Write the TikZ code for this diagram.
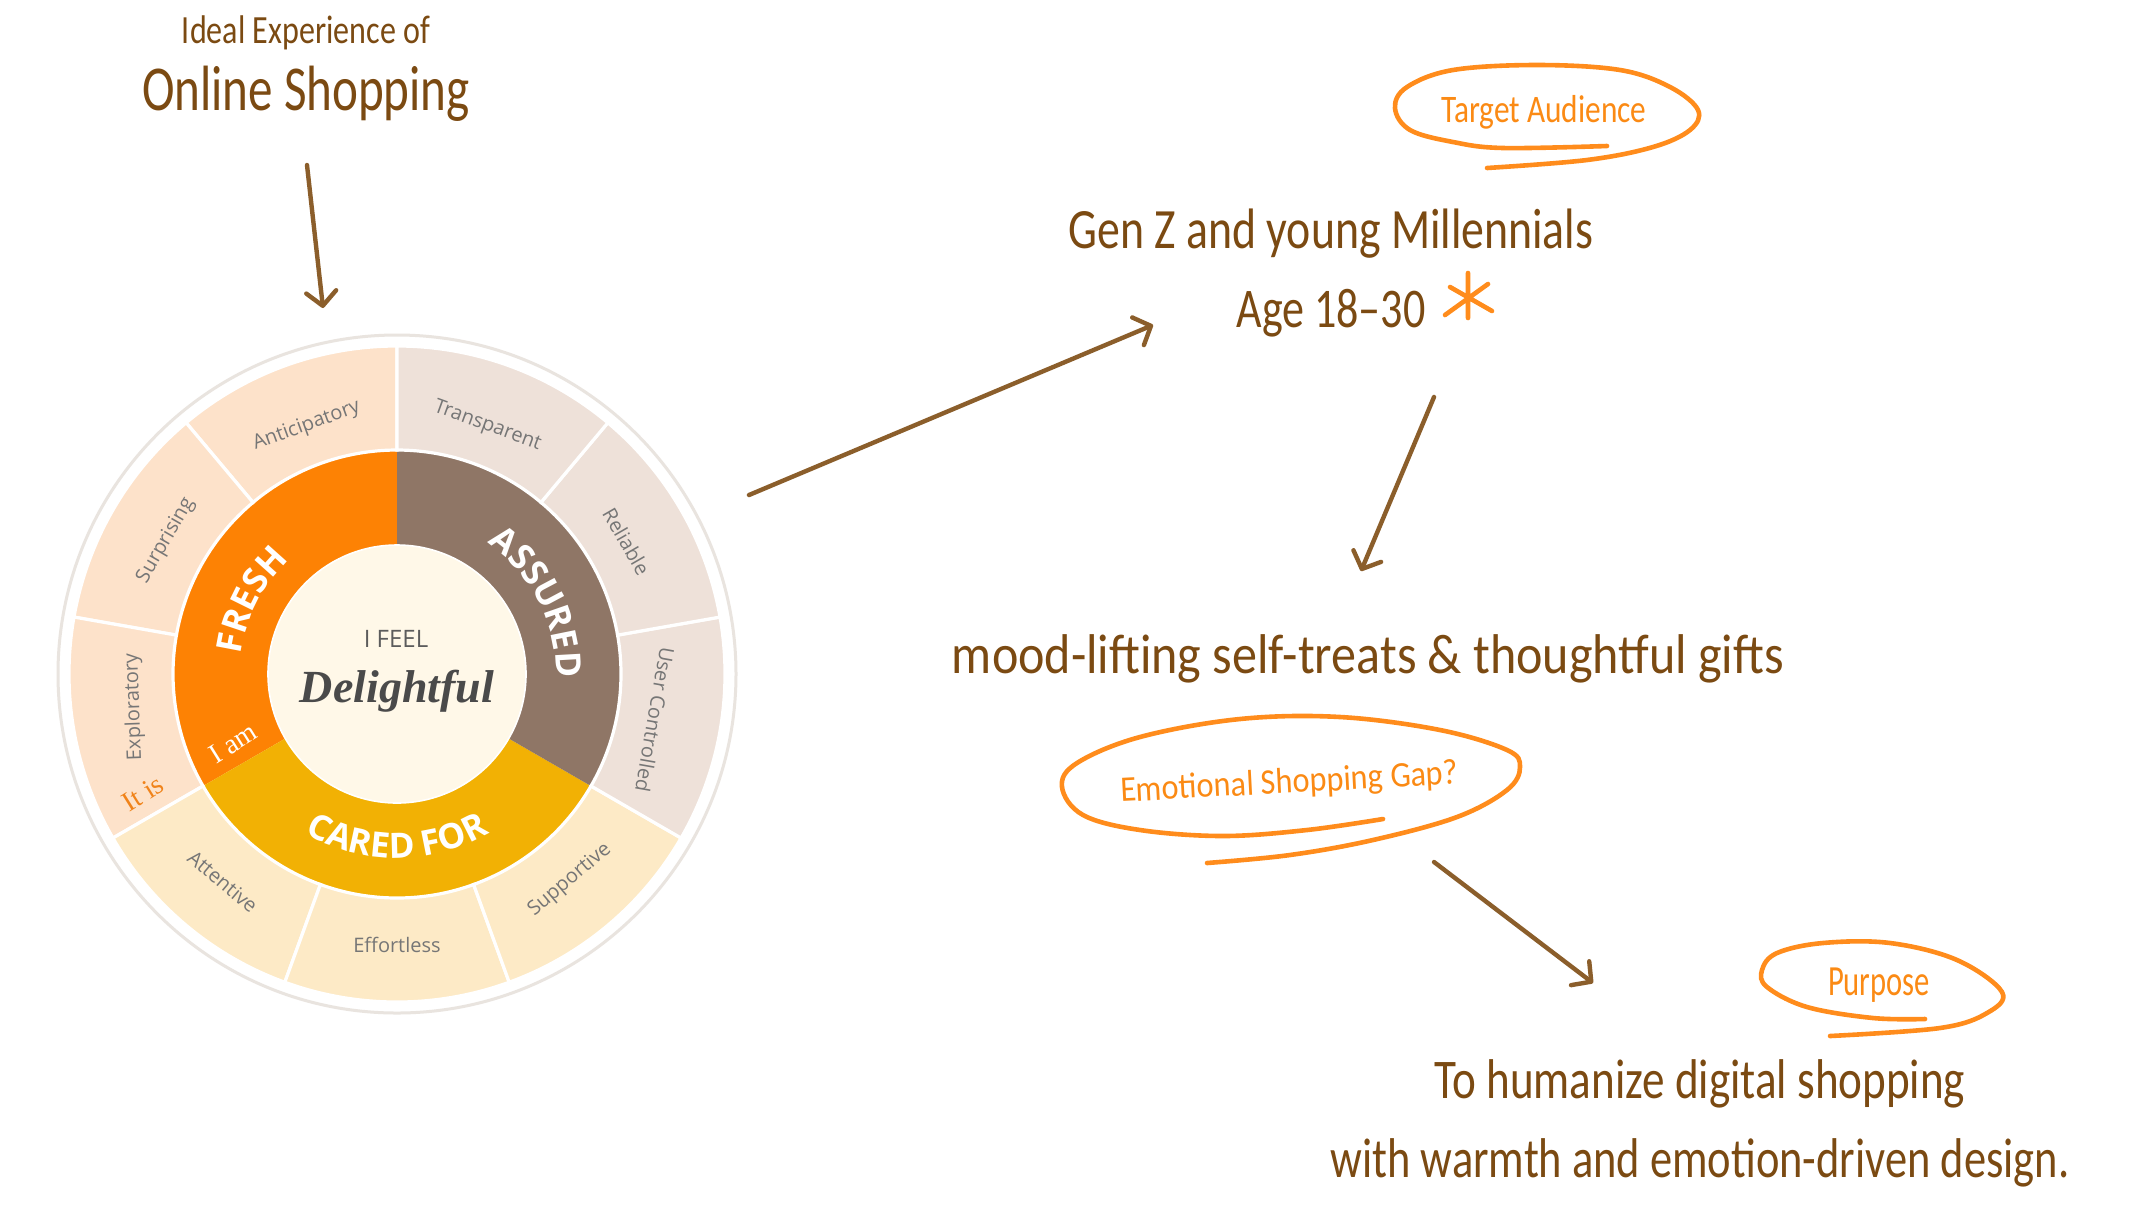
\documentclass[tikz,border=0pt]{standalone}
\usepackage{fontspec}
\usepackage{graphicx}
\usetikzlibrary{arrows.meta,decorations.text}
\setmainfont{Liberation Serif}
\setsansfont{Open Sans}
\newfontfamily\handfont[Ligatures=TeX]{Carlito}
\newfontfamily\labelfont{Open Sans}

\definecolor{brownT}{HTML}{7B4A12}
\definecolor{brownA}{HTML}{8B5E2B}
\definecolor{orangeT}{HTML}{FB8A14}
\definecolor{orangeS}{HTML}{FF8C1C}
\definecolor{freshC}{HTML}{FD8204}
\definecolor{assuredC}{HTML}{8F7666}
\definecolor{caredC}{HTML}{F2B104}
\definecolor{freshL}{HTML}{FDE2CA}
\definecolor{assuredL}{HTML}{EEE1D9}
\definecolor{caredL}{HTML}{FDEAC6}
\definecolor{coreC}{HTML}{FFF8E8}
\definecolor{labelC}{HTML}{767676}
\definecolor{ringC}{HTML}{E9E4DF}
\definecolor{darkT}{HTML}{4A4A4A}
\definecolor{itisC}{HTML}{F0831A}

\newcommand\hw[3]{\resizebox{#1pt}{\height}{\fontsize{#2}{#2}\selectfont\handfont #3}}
\newcommand\midfont{\sffamily\bfseries\fontsize{17.5}{17.5}\selectfont}

\begin{document}
\begin{tikzpicture}[x=0.5pt,y=0.5pt,
  hand/.style={inner sep=0pt, anchor=base, text=brownT},
  handO/.style={inner sep=0pt, anchor=base, text=orangeT},
  arr/.style={draw=brownA, line width=2.2pt, line cap=round,
    -{Straight Barb[length=7pt,width=15pt,line cap=round,line join=round]}},
  loopline/.style={draw=orangeS, line width=2.3pt, line cap=round, line join=round},
  wlabel/.style={inner sep=0pt, text=labelC, font=\labelfont\fontsize{10}{10}\selectfont},
  serifl/.style={inner sep=0pt, font=\rmfamily\fontsize{14}{14}\selectfont},
]
\useasboundingbox (0,0) rectangle (2156,-1212);
\fill[white] (0,0) rectangle (2156,-1212);

% ---------- wheel ----------
\coordinate (wc) at (397,-674);
\draw[ringC, line width=1.5pt, fill=white] (wc) circle[radius=339];

\fill[freshC] (wc) -- ([shift={(90:224)}]wc) arc[start angle=90,end angle=210,radius=224] -- cycle;
\fill[caredC] (wc) -- ([shift={(210:224)}]wc) arc[start angle=210,end angle=330,radius=224] -- cycle;
\fill[assuredC] (wc) -- ([shift={(330:224)}]wc) arc[start angle=330,end angle=450,radius=224] -- cycle;

\foreach \a/\b/\c in {90/130/freshL, 130/170/freshL, 170/210/freshL,
  210/250/caredL, 250/290/caredL, 290/330/caredL,
  330/370/assuredL, 10/50/assuredL, 50/90/assuredL}{
  \filldraw[fill=\c, draw=white, line width=1.6pt]
    ([shift={(\a:328)}]wc) arc[start angle=\a, end angle=\b, radius=328]
    -- ([shift={(\b:224)}]wc) arc[start angle=\b, end angle=\a, radius=224] -- cycle;
}

\draw[fill=coreC, draw=white, line width=0.8pt] (wc) circle[radius=129];

% middle ring words
\path[decorate, decoration={text along path, text align=center, text color=white,
  text={|\midfont|FRESH}}]
  ([shift={(190:157)}]wc) arc[start angle=190, end angle=116, radius=157];
\path[decorate, decoration={text along path, text align=center, text color=white,
  text={|\midfont|ASSURED}}]
  ([shift={(66:159)}]wc) arc[start angle=66, end angle=-12, radius=159];
\path[decorate, decoration={text along path, text align=center, text color=white,
  text={|\midfont|CARED FOR}}]
  ([shift={(225:184)}]wc) arc[start angle=225, end angle=315, radius=184];

% outer labels
\node[wlabel, rotate=20]   (lant) at ([shift={(110:264)}]wc) {Anticipatory};
\node[wlabel, rotate=-20]  (ltra) at ([shift={(70:264)}]wc) {Transparent};
\node[wlabel, rotate=-60]  (lrel) at ([shift={(30:265)}]wc) {Reliable};
\node[wlabel, rotate=-100] (luse) at ([shift={(-10:262)}]wc) {User Controlled};
\node[wlabel, rotate=40]   (lsup) at ([shift={(-50:269)}]wc) {Supportive};
\node[wlabel]              (leff) at ([shift={(-90:271)}]wc) {Effortless};
\node[wlabel, rotate=-40]  (latt) at ([shift={(-130:271)}]wc) {Attentive};
\node[wlabel, rotate=60]   (lsur) at ([shift={(150:267)}]wc) {Surprising};
\node[wlabel, rotate=92]   (lexp) at (134,-707) {Exploratory};

\node[serifl, text=white, rotate=32] (iam) at (233,-743) {I am};
\node[serifl, text=itisC, rotate=32] (itis) at (143,-793) {It is};

\node[inner sep=0pt, text=darkT!90, font=\labelfont\fontsize{12}{12}\selectfont] (ifeel) at (396,-639) {I FEEL};
\node[inner sep=0pt, anchor=base, text=darkT, font=\rmfamily\bfseries\itshape\fontsize{23}{23}\selectfont] (delight) at (397,-702) {Delightful};

% ---------- handwritten texts ----------
\node[hand] (ideal) at (306,-43) {\hw{124}{20}{Ideal Experience of}};
\node[hand] (online) at (306,-110) {\hw{164}{32}{Online Shopping}};
\node[handO] (target) at (1544,-122) {\hw{102.5}{19.5}{Target Audience}};
\node[hand] (genz) at (1331,-248) {\hw{262.5}{28.5}{Gen Z and young Millennials}};
\node[hand] (age) at (1331,-327) {\hw{94.5}{28}{Age 18–30}};
\node[hand] (mood) at (1368,-673) {\hw{416}{28}{mood-lifting self-treats \& thoughtful gifts}};
\node[handO, rotate=3] (gap) at (1290,-793) {\hw{169}{18}{Emotional Shopping Gap?}};
\node[handO] (purpose) at (1879,-995) {\hw{51}{21.5}{Purpose}};
\node[hand] (hum1) at (1700,-1098) {\hw{265.5}{28}{To humanize digital shopping}};
\node[hand] (hum2) at (1700,-1177) {\hw{369.5}{28}{with warmth and emotion-driven design.}};

% ---------- hand-drawn loops ----------
\draw[loopline] plot[smooth, tension=0.6] coordinates {(1607,-146) (1503,-148) (1453,-142) (1410,-130) (1395,-108) (1407,-87) (1453,-70) (1537,-65) (1620,-70) (1670,-87) (1698,-110) (1690,-130) (1653,-147) (1587,-160) (1487,-168)};
\draw[loopline] plot[smooth, tension=0.6] coordinates {(1383,-819) (1307,-830) (1223,-836) (1140,-830) (1083,-815) (1062,-787) (1077,-763) (1140,-737) (1240,-719) (1340,-717) (1440,-730) (1507,-750) (1520,-767) (1507,-790) (1457,-817) (1373,-840) (1290,-855) (1207,-863)};
\draw[loopline] plot[smooth, tension=0.6] coordinates {(1925,-1019) (1873,-1018) (1807,-1007) (1767,-987) (1762,-970) (1777,-953) (1823,-943) (1890,-943) (1957,-960) (2002,-992) (1987,-1013) (1940,-1028) (1830,-1036)};

% star
\coordinate (star) at (1468,-296);
\draw[orangeS, line width=2.3pt, line cap=round]
  (1468,-273) -- (1468,-318) (1488,-284) -- (1445,-315) (1450,-287) -- (1492,-311);

% ---------- arrows ----------
\coordinate (a1s) at (307,-165);  \coordinate (a1e) at (323,-308);
\coordinate (a2s) at (749,-495);  \coordinate (a2e) at (1153,-325);
\coordinate (a3s) at (1434,-397); \coordinate (a3e) at (1361,-571);
\coordinate (a4s) at (1434,-862); \coordinate (a4e) at (1593,-983);
\draw[arr] (a1s) -- (a1e);
\draw[arr] (a2s) -- (a2e);
\draw[arr] (a3s) -- (a3e);
\draw[arr] (a4s) -- (a4e);
\end{tikzpicture}
\end{document}
